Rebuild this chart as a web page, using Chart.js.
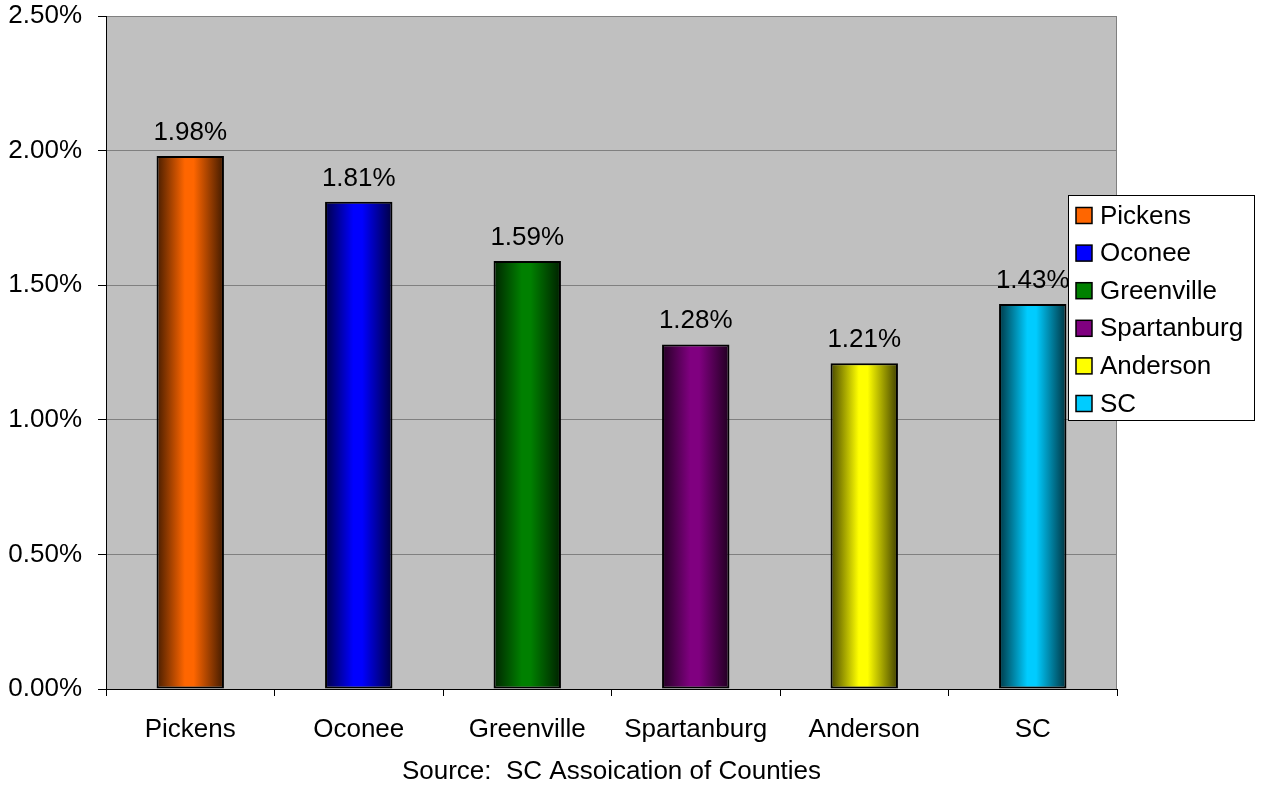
<!DOCTYPE html>
<html>
<head>
<meta charset="utf-8">
<script src="https://cdn.jsdelivr.net/npm/chart.js@4/dist/chart.umd.min.js"></script>
<style>
html,body{margin:0;padding:0;background:#fff;}
#wrap{width:1266px;height:787px;}
</style>
</head>
<body>
<div id="wrap"><canvas id="c" width="1266" height="787"></canvas></div>
<script>
const categories = ['Pickens', 'Oconee', 'Greenville', 'Spartanburg', 'Anderson', 'SC'];
const values = [1.98, 1.81, 1.59, 1.28, 1.21, 1.43];
const barColors = ['#FF6600', '#0000FF', '#008000', '#800080', '#FFFF00', '#00CCFF'];
const sourceText = 'Source:  SC Assoication of Counties';

const FONT = "'Liberation Sans', Arial, sans-serif";
const FS = 26;

function shade(hex, f) {
  const n = parseInt(hex.slice(1), 16);
  const r = Math.round(((n >> 16) & 255) * f), g = Math.round(((n >> 8) & 255) * f), b = Math.round((n & 255) * f);
  return `rgb(${r},${g},${b})`;
}

function barFill(ctx) {
  const chart = ctx.chart;
  const i = ctx.dataIndex;
  const base = barColors[i];
  const ca = chart.chartArea;
  const xs = chart.scales.x;
  if (!ca || !xs || i === undefined) return base;
  const cx = xs.getPixelForValue(i);
  const w = (ca.right - ca.left) / categories.length * 0.4;
  const g = chart.ctx.createLinearGradient(cx - w / 2, 0, cx + w / 2, 0);
  g.addColorStop(0, shade(base, 0.28));
  g.addColorStop(0.42, base);
  g.addColorStop(0.55, base);
  g.addColorStop(1, shade(base, 0.25));
  return g;
}

const plotBg = {
  id: 'plotBg',
  beforeDraw(chart) {
    const { ctx, chartArea: a } = chart;
    ctx.save();
    ctx.fillStyle = '#C0C0C0';
    ctx.fillRect(a.left, a.top, a.right - a.left, a.bottom - a.top);
    ctx.strokeStyle = '#808080';
    ctx.lineWidth = 1;
    ctx.strokeRect(a.left + 0.5, a.top + 0.5, a.right - a.left - 1, a.bottom - a.top);
    ctx.restore();
  }
};

const valueLabels = {
  id: 'valueLabels',
  afterDatasetsDraw(chart) {
    const { ctx } = chart;
    const meta = chart.getDatasetMeta(0);
    ctx.save();
    ctx.font = `${FS}px ${FONT}`;
    ctx.fillStyle = '#000';
    ctx.textAlign = 'center';
    ctx.textBaseline = 'alphabetic';
    meta.data.forEach((bar, i) => {
      ctx.fillText(values[i].toFixed(2) + '%', bar.x, bar.y - 16);
    });
    ctx.restore();
  }
};

const customLegend = {
  id: 'customLegend',
  afterDraw(chart) {
    const { ctx } = chart;
    const L = 1068, T = 195, W = 187, H = 226;
    ctx.save();
    ctx.fillStyle = '#fff';
    ctx.fillRect(L, T, W, H);
    ctx.strokeStyle = '#000';
    ctx.lineWidth = 1;
    ctx.strokeRect(L + 0.5, T + 0.5, W - 1, H - 1);
    ctx.font = `${FS}px ${FONT}`;
    ctx.textBaseline = 'middle';
    ctx.textAlign = 'left';
    categories.forEach((name, i) => {
      const cy = 215.5 + i * 37.6;
      ctx.fillStyle = barColors[i];
      ctx.fillRect(1076, cy - 8, 16, 16);
      ctx.strokeStyle = '#000';
      ctx.lineWidth = 1.5;
      ctx.strokeRect(1076, cy - 8, 16, 16);
      ctx.fillStyle = '#000';
      ctx.fillText(name, 1100, cy + 1);
    });
    ctx.restore();
  }
};

new Chart(document.getElementById('c'), {
  type: 'bar',
  data: {
    labels: categories,
    datasets: [{
      data: values,
      backgroundColor: barFill,
      borderColor: '#000',
      borderWidth: 2,
      borderSkipped: false,
      barPercentage: 0.4,
      categoryPercentage: 1.0
    }]
  },
  options: {
    responsive: false,
    animation: false,
    devicePixelRatio: 1,
    layout: { padding: { left: 0, top: 16, right: 149, bottom: 0 } },
    plugins: { legend: { display: false }, tooltip: { enabled: false } },
    scales: {
      x: {
        offset: true,
        grid: { display: true, drawOnChartArea: false, drawTicks: true, tickLength: 7, color: '#000', offset: true },
        border: { color: '#000', width: 1 },
        ticks: { color: '#000', font: { family: FONT, size: FS }, padding: 18, maxRotation: 0 },
        title: { display: true, text: sourceText, color: '#000', font: { family: FONT, size: FS }, padding: { top: 4, bottom: 0 } },
        afterFit(s) { s.height = 98; s.paddingLeft = 0; s.paddingRight = 0; }
      },
      y: {
        min: 0, max: 2.5,
        ticks: { stepSize: 0.5, color: '#000', font: { family: FONT, size: FS }, padding: 16,
          callback: v => v.toFixed(2) + '%' },
        grid: { color: '#808080', tickColor: '#000', tickLength: 8, drawTicks: true },
        border: { color: '#000', width: 1 },
        afterFit(s) { s.width = 106; s.paddingTop = 0; s.paddingBottom = 0; }
      }
    }
  },
  plugins: [plotBg, valueLabels, customLegend]
});
</script>
</body>
</html>
